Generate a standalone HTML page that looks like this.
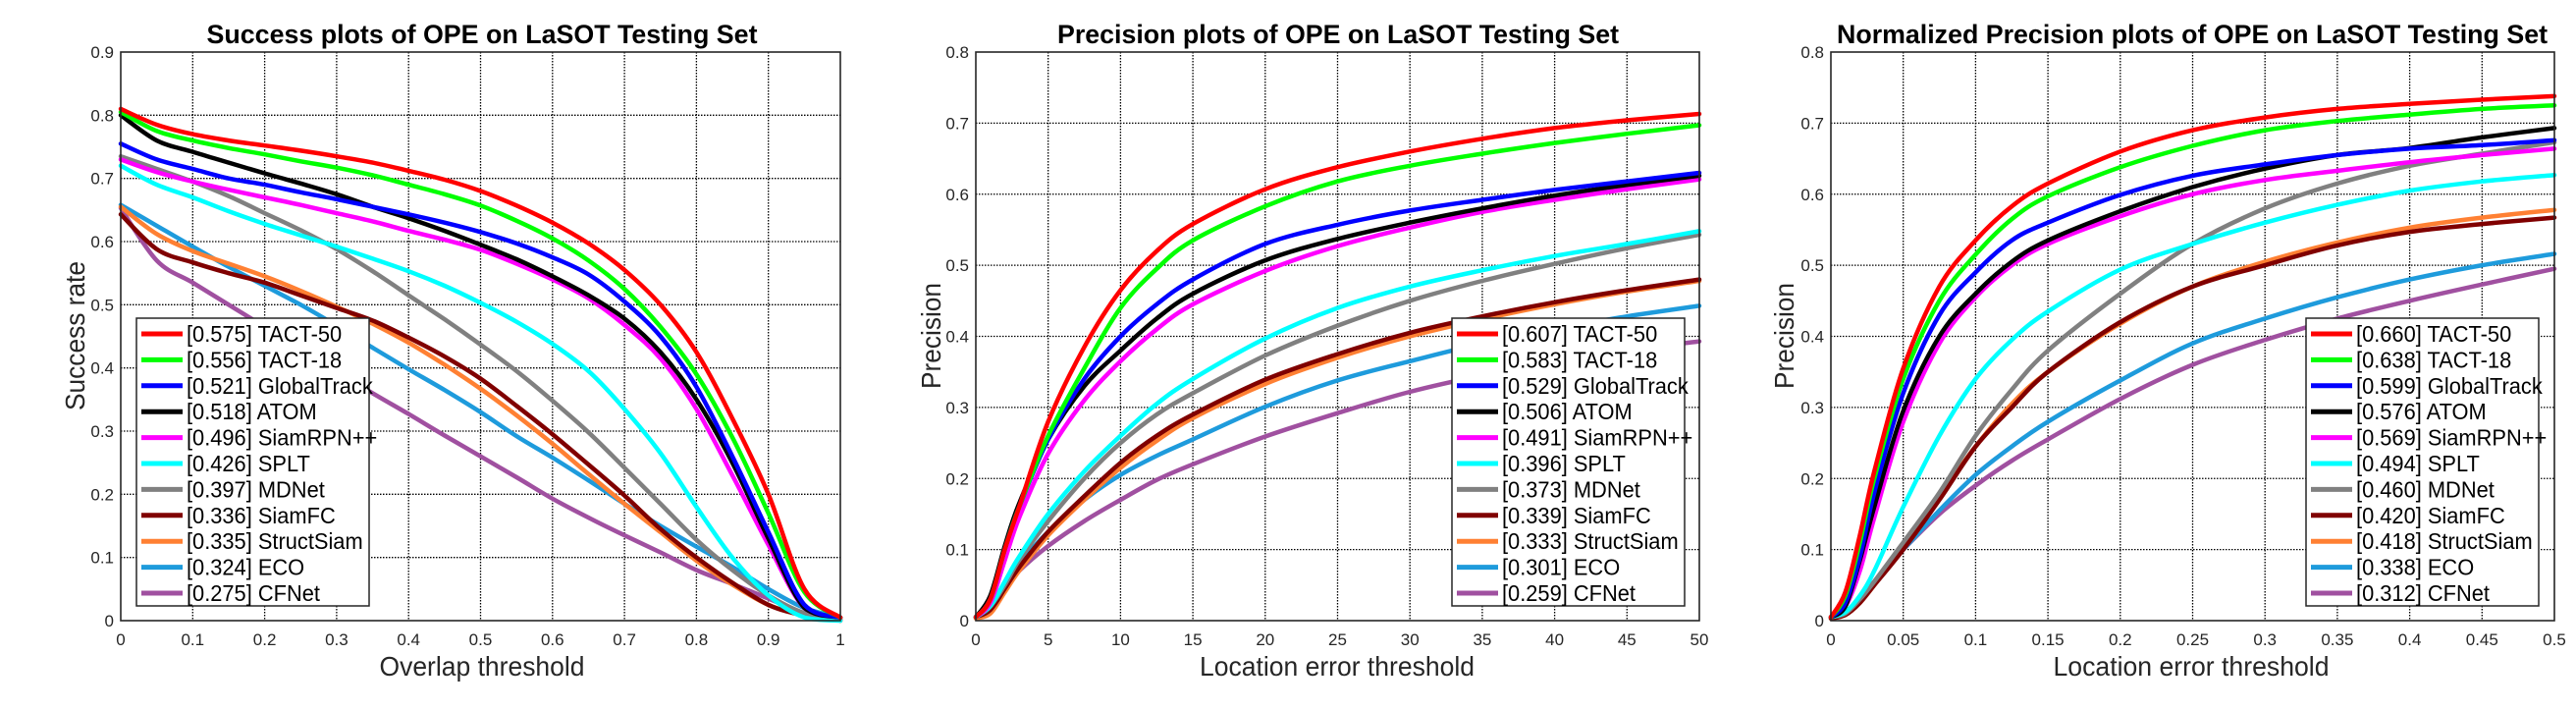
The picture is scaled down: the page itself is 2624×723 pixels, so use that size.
<!DOCTYPE html>
<html><head><meta charset="utf-8">
<style>
html,body{margin:0;padding:0;background:#fff;}
svg{display:block;font-family:"Liberation Sans",sans-serif;}
</style></head>
<body>
<svg id="fig" width="2624" height="723" viewBox="0 0 2624 723" xmlns="http://www.w3.org/2000/svg"></svg>
<script>
const names=["TACT-50","TACT-18","GlobalTrack","ATOM","SiamRPN++","SPLT","MDNet","SiamFC","StructSiam","ECO","CFNet"];
const colors=["#ff0000","#00ff00","#0000ff","#000000","#ff00ff","#00ffff","#808080","#800000","#ff8033","#1e9bdc","#a050a0"];

// Success plot
const succX=[0,0.05,0.1,0.15,0.2,0.25,0.3,0.35,0.4,0.45,0.5,0.55,0.6,0.65,0.7,0.75,0.8,0.85,0.9,0.95,1];
const succScores=["0.575","0.556","0.521","0.518","0.496","0.426","0.397","0.336","0.335","0.324","0.275"];
const succTACT50=[0.81,0.785,0.77,0.76,0.752,0.744,0.735,0.725,0.712,0.698,0.68,0.657,0.63,0.597,0.555,0.5,0.425,0.32,0.2,0.05,0.005];
const succTACT18=[0.805,0.775,0.76,0.748,0.738,0.727,0.717,0.705,0.69,0.675,0.657,0.633,0.605,0.57,0.525,0.465,0.39,0.29,0.17,0.045,0.005];
const succGlobal=[0.755,0.73,0.715,0.70,0.69,0.678,0.667,0.655,0.643,0.63,0.615,0.597,0.575,0.548,0.505,0.45,0.37,0.26,0.14,0.025,0.005];
const succATOM=[0.80,0.76,0.742,0.725,0.708,0.692,0.675,0.655,0.637,0.617,0.595,0.572,0.545,0.515,0.478,0.425,0.35,0.25,0.13,0.02,0.005];
const succRPN=[0.73,0.71,0.695,0.682,0.67,0.658,0.645,0.632,0.617,0.603,0.587,0.565,0.54,0.51,0.468,0.415,0.335,0.23,0.12,0.02,0.005];
const succSPLT=[0.72,0.69,0.67,0.648,0.628,0.61,0.592,0.573,0.553,0.53,0.503,0.473,0.438,0.395,0.335,0.265,0.18,0.1,0.04,0.005,0];
const succMDNet=[0.735,0.715,0.695,0.672,0.645,0.618,0.588,0.553,0.515,0.477,0.437,0.395,0.348,0.298,0.242,0.185,0.128,0.08,0.04,0.012,0.002];
const succSiamFC=[0.643,0.588,0.567,0.55,0.535,0.515,0.495,0.475,0.448,0.418,0.383,0.34,0.295,0.247,0.198,0.145,0.1,0.06,0.025,0.008,0];
const succStruct=[0.655,0.612,0.585,0.565,0.545,0.522,0.497,0.47,0.44,0.405,0.367,0.325,0.28,0.232,0.185,0.14,0.095,0.057,0.025,0.008,0];
const succECO=[0.658,0.625,0.592,0.56,0.53,0.5,0.467,0.432,0.398,0.365,0.33,0.292,0.258,0.222,0.185,0.15,0.117,0.085,0.05,0.02,0.005];
const succCFNet=[0.653,0.57,0.535,0.5,0.465,0.43,0.395,0.36,0.327,0.293,0.26,0.227,0.193,0.163,0.135,0.108,0.08,0.058,0.035,0.012,0.002];
const succXTicks=["0","0.1","0.2","0.3","0.4","0.5","0.6","0.7","0.8","0.9","1"];
const succYTicks=["0","0.1","0.2","0.3","0.4","0.5","0.6","0.7","0.8","0.9"];

// Precision plot
const precX=[0,1,2,3,5,7.5,10,12.5,15,20,25,30,35,40,45,50];
const precScores=["0.607","0.583","0.529","0.506","0.491","0.396","0.373","0.339","0.333","0.301","0.259"];
const precTACT50=[0.005,0.03,0.1,0.16,0.28,0.385,0.465,0.52,0.558,0.607,0.638,0.66,0.678,0.693,0.704,0.713];
const precTACT18=[0.005,0.03,0.1,0.16,0.26,0.355,0.44,0.495,0.535,0.583,0.618,0.64,0.657,0.672,0.685,0.697];
const precGlobal=[0.005,0.03,0.1,0.16,0.255,0.34,0.4,0.445,0.48,0.53,0.557,0.577,0.592,0.606,0.618,0.63];
const precATOM=[0.005,0.035,0.105,0.165,0.255,0.33,0.38,0.425,0.46,0.507,0.537,0.56,0.58,0.598,0.613,0.626];
const precRPN=[0.005,0.025,0.085,0.145,0.235,0.31,0.365,0.41,0.445,0.492,0.527,0.553,0.575,0.592,0.607,0.621];
const precSPLT=[0.005,0.02,0.055,0.09,0.15,0.21,0.26,0.305,0.34,0.397,0.44,0.47,0.493,0.513,0.53,0.548];
const precMDNet=[0.005,0.02,0.05,0.085,0.14,0.2,0.25,0.29,0.32,0.373,0.415,0.45,0.478,0.502,0.524,0.543];
const precSiamFC=[0.005,0.015,0.045,0.075,0.125,0.175,0.222,0.26,0.29,0.339,0.375,0.405,0.428,0.448,0.465,0.48];
const precStruct=[0.003,0.01,0.04,0.07,0.12,0.17,0.215,0.253,0.285,0.333,0.37,0.4,0.424,0.445,0.463,0.478];
const precECO=[0.005,0.02,0.05,0.08,0.125,0.17,0.205,0.232,0.255,0.301,0.338,0.365,0.39,0.41,0.428,0.443];
const precCFNet=[0.005,0.015,0.045,0.07,0.105,0.14,0.17,0.198,0.22,0.259,0.292,0.322,0.345,0.363,0.38,0.393];
const precXTicks=["0","5","10","15","20","25","30","35","40","45","50"];
const precYTicks=["0","0.1","0.2","0.3","0.4","0.5","0.6","0.7","0.8"];

// Normalized precision plot
const normX=[0,0.01,0.02,0.03,0.05,0.075,0.1,0.125,0.15,0.2,0.25,0.3,0.35,0.4,0.45,0.5];
const normScores=["0.660","0.638","0.599","0.576","0.569","0.494","0.460","0.420","0.418","0.338","0.312"];
const normTACT50=[0.005,0.04,0.12,0.21,0.355,0.47,0.535,0.583,0.615,0.66,0.69,0.708,0.72,0.727,0.733,0.738];
const normTACT18=[0.005,0.035,0.11,0.2,0.34,0.45,0.515,0.565,0.597,0.638,0.668,0.69,0.703,0.712,0.72,0.725];
const normGlobal=[0.005,0.025,0.09,0.18,0.32,0.43,0.49,0.535,0.56,0.599,0.626,0.642,0.655,0.664,0.669,0.676];
const normATOM=[0.005,0.02,0.085,0.16,0.295,0.4,0.46,0.505,0.535,0.576,0.61,0.636,0.655,0.665,0.68,0.693];
const normRPN=[0.005,0.02,0.07,0.145,0.28,0.39,0.455,0.5,0.53,0.569,0.6,0.62,0.633,0.645,0.655,0.664];
const normSPLT=[0.005,0.012,0.035,0.07,0.16,0.26,0.34,0.395,0.435,0.494,0.53,0.56,0.585,0.605,0.618,0.627];
const normMDNet=[0.005,0.01,0.03,0.055,0.11,0.18,0.26,0.325,0.38,0.46,0.53,0.58,0.615,0.64,0.657,0.673];
const normSiamFC=[0.003,0.008,0.025,0.05,0.1,0.17,0.245,0.3,0.35,0.42,0.47,0.5,0.528,0.547,0.558,0.567];
const normStruct=[0.003,0.008,0.025,0.05,0.105,0.175,0.245,0.305,0.35,0.418,0.47,0.505,0.532,0.553,0.567,0.578];
const normECO=[0.005,0.012,0.03,0.055,0.1,0.155,0.205,0.245,0.28,0.338,0.39,0.425,0.455,0.48,0.5,0.516];
const normCFNet=[0.005,0.012,0.03,0.055,0.1,0.15,0.19,0.225,0.255,0.312,0.36,0.395,0.425,0.45,0.473,0.495];
const normXTicks=["0","0.05","0.1","0.15","0.2","0.25","0.3","0.35","0.4","0.45","0.5"];
const normYTicks=["0","0.1","0.2","0.3","0.4","0.5","0.6","0.7","0.8"];

const NS="http://www.w3.org/2000/svg";
const svg=document.getElementById('fig');
function mk(tag,attrs,parent){const e=document.createElementNS(NS,tag);for(const k in attrs)e.setAttribute(k,attrs[k]);(parent||svg).appendChild(e);return e;}
function smoothPath(P){
  let d='M'+P[0][0].toFixed(1)+','+P[0][1].toFixed(1);
  for(let i=0;i<P.length-1;i++){
    const p0=P[Math.max(0,i-1)],p1=P[i],p2=P[i+1],p3=P[Math.min(P.length-1,i+2)];
    const c1x=p1[0]+(p2[0]-p0[0])/6,c1y=p1[1]+(p2[1]-p0[1])/6;
    const c2x=p2[0]-(p3[0]-p1[0])/6,c2y=p2[1]-(p3[1]-p1[1])/6;
    const lo=Math.min(p1[1],p2[1]),hi=Math.max(p1[1],p2[1]);
    d+=' C'+c1x.toFixed(1)+','+Math.min(hi,Math.max(lo,c1y)).toFixed(1)+' '+c2x.toFixed(1)+','+Math.min(hi,Math.max(lo,c2y)).toFixed(1)+' '+p2[0].toFixed(1)+','+p2[1].toFixed(1);
  }
  return d;
}

const plots=[
 {key:'success',title:'Success plots of OPE on LaSOT Testing Set',titleX:491,titleW:561,xlabel:'Overlap threshold',xlX:491,xlW:209,ylabel:'Success rate',ylX:76,ylW:152,
  L:123,R:856,xmax:1,ymax:0.9,xs:succX,series:[succTACT50,succTACT18,succGlobal,succATOM,succRPN,succSPLT,succMDNet,succSiamFC,succStruct,succECO,succCFNet],scores:succScores,xt:succXTicks,yt:succYTicks,legL:139},
 {key:'precision',title:'Precision plots of OPE on LaSOT Testing Set',titleX:1363,titleW:572,xlabel:'Location error threshold',xlX:1362,xlW:280,ylabel:'Precision',ylX:948,ylW:108,
  L:994,R:1731,xmax:50,ymax:0.8,xs:precX,series:[precTACT50,precTACT18,precGlobal,precATOM,precRPN,precSPLT,precMDNet,precSiamFC,precStruct,precECO,precCFNet],scores:precScores,xt:precXTicks,yt:precYTicks,legL:1479},
 {key:'norm-precision',title:'Normalized Precision plots of OPE on LaSOT Testing Set',titleX:2233,titleW:724,xlabel:'Location error threshold',xlX:2232,xlW:281,ylabel:'Precision',ylX:1817,ylW:108,
  L:1865,R:2602,xmax:0.5,ymax:0.8,xs:normX,series:[normTACT50,normTACT18,normGlobal,normATOM,normRPN,normSPLT,normMDNet,normSiamFC,normStruct,normECO,normCFNet],scores:normScores,xt:normXTicks,yt:normYTicks,legL:2349}
];
const T=53,B=632;

plots.forEach(p=>{
  const g=mk('g',{});
  
  
  const X=v=>p.L+(v/p.xmax)*(p.R-p.L);
  const Y=v=>B-(v/p.ymax)*(B-T);
  const grid=mk('g',{stroke:'#000','stroke-width':1.3,'stroke-dasharray':'1.5,1.5'},g);
  
  
  const nx=p.xt.length-1, ny=p.yt.length-1;
  for(let i=1;i<nx;i++){const x=X(p.xmax*i/nx);mk('line',{x1:x,x2:x,y1:T,y2:B},grid);}
  for(let i=1;i<ny;i++){const y=Y(p.ymax*i/ny);mk('line',{x1:p.L,x2:p.R,y1:y,y2:y},grid);}
  p.xt.forEach((t,i)=>{const e=mk('text',{x:X(p.xmax*i/nx),y:657,'font-size':17,'text-anchor':'middle',fill:'#262626'},g);e.textContent=t;
    });
  p.yt.forEach((t,i)=>{const e=mk('text',{x:p.L-7,y:Y(p.ymax*i/ny)+6,'font-size':17,'text-anchor':'end',fill:'#262626'},g);e.textContent=t;
    });
  for(let s=p.series.length-1;s>=0;s--){
    const P=p.xs.map((xv,i)=>[X(xv),Y(p.series[s][i])]);
    const pl=mk('path',{d:smoothPath(P),fill:'none',stroke:colors[s],'stroke-width':4.5,'stroke-linejoin':'round','stroke-linecap':'round'},g);
    
    
  }
  const box=mk('rect',{x:p.L,y:T,width:p.R-p.L,height:B-T,fill:'none',stroke:'#262626','stroke-width':1.6},g);
  
  
  const ti=mk('text',{x:p.titleX,y:44,'font-size':27,'font-weight':'bold','text-anchor':'middle',textLength:p.titleW,lengthAdjust:'spacingAndGlyphs'},g);
  ti.textContent=p.title;
  
  
  const xl=mk('text',{x:p.xlX,y:688,'font-size':28,'text-anchor':'middle',fill:'#262626',textLength:p.xlW,lengthAdjust:'spacingAndGlyphs'},g);
  xl.textContent=p.xlabel;
  
  
  const yl=mk('text',{x:0,y:0,'font-size':28,'text-anchor':'middle',fill:'#262626',transform:`translate(${p.ylX+10},342) rotate(-90)`,textLength:p.ylW,lengthAdjust:'spacingAndGlyphs'},g);
  yl.textContent=p.ylabel;
  
  
  const lg=mk('g',{},g);
  
  
  mk('rect',{x:p.legL,y:324,width:237,height:293,fill:'#fff',stroke:'#262626','stroke-width':1.5},lg);
  names.forEach((n,i)=>{
    const cy=340+i*26.4;
    const ln=mk('line',{x1:p.legL+5,x2:p.legL+47,y1:cy,y2:cy,stroke:colors[i],'stroke-width':5},lg);
    
    
    const tx=mk('text',{x:p.legL+51,y:cy+8,'font-size':23,fill:'#000',transform:`translate(${p.legL+51},${cy+8}) scale(0.95,1) translate(${-(p.legL+51)},${-(cy+8)})`},lg);
    tx.textContent='['+p.scores[i]+'] '+n;
    
    
  });
});
</script>
</body></html>
